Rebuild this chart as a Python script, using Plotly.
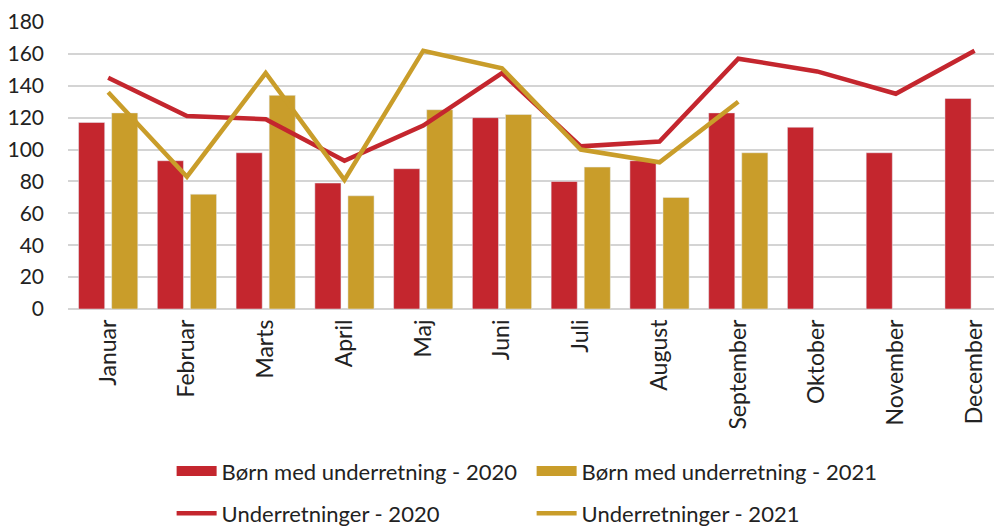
import plotly.graph_objects as go

months = ["Januar", "Februar", "Marts", "April", "Maj", "Juni", "Juli",
          "August", "September", "Oktober", "November", "December"]
born_2020 = [117, 93, 98, 79, 88, 120, 80, 93, 123, 114, 98, 132]
born_2021 = [123, 72, 134, 71, 125, 122, 89, 70, 98]
under_2020 = [145, 121, 119, 93, 115, 148, 102, 105, 157, 149, 135, 162]
under_2021 = [136, 83, 148, 81, 162, 151, 100, 92, 130]

RED = "#C4262E"
GOLD = "#C99D2A"
FONT = "Lato"
TXT = "#222222"

fig = go.Figure()
fig.add_trace(go.Bar(x=months, y=born_2020, name="Børn med underretning - 2020",
                     marker=dict(color=RED), showlegend=False, legendgroup="b20"))
fig.add_trace(go.Bar(x=months[:len(born_2021)], y=born_2021,
                     name="Børn med underretning - 2021", marker=dict(color=GOLD),
                     showlegend=False, legendgroup="b21"))
fig.add_trace(go.Scatter(x=months, y=under_2020, name="Underretninger - 2020",
                         mode="lines", line=dict(color=RED, width=4.5),
                         legend="legend2"))
fig.add_trace(go.Scatter(x=months[:len(under_2021)], y=under_2021,
                         name="Underretninger - 2021", mode="lines",
                         line=dict(color=GOLD, width=4.5), legend="legend2"))
# legend entries for the bar series (wide filled swatches)
fig.add_trace(go.Scatter(x=[None], y=[None], mode="lines", name="Børn med underretning - 2020",
                         line=dict(color=RED, width=13), legendgroup="b20", legend="legend"))
fig.add_trace(go.Scatter(x=[None], y=[None], mode="lines", name="Børn med underretning - 2021",
                         line=dict(color=GOLD, width=13), legendgroup="b21", legend="legend"))

leg_common = dict(orientation="h", xanchor="left", yanchor="middle",
                  entrywidth=305, entrywidthmode="pixels",
                  font=dict(family=FONT, size=22, color=TXT),
                  itemwidth=40, bgcolor="rgba(0,0,0,0)")

fig.update_layout(
    width=1002, height=528,
    margin=dict(l=60, r=0, t=14, b=227, autoexpand=False),
    paper_bgcolor="white", plot_bgcolor="white",
    font=dict(family=FONT, size=20, color=TXT),
    barmode="group", bargap=0.16, bargroupgap=0.21,
    showlegend=True,
    legend=dict(x=0.110, y=-0.565, **leg_common),
    legend2=dict(x=0.110, y=-0.712, **leg_common),
    xaxis=dict(range=[-0.51, 11.45], tickangle=-90, showgrid=False,
               showline=False, ticks="", tickfont=dict(size=23, color=TXT),
               automargin=False, ticklabelstandoff=5),
    yaxis=dict(range=[0, 180], dtick=20, showgrid=True, gridcolor="#d4d4d4",
               gridwidth=1.5, zeroline=True, zerolinecolor="#d4d4d4",
               zerolinewidth=1.5, showline=False, ticks="", automargin=False,
               ticklabelstandoff=23, tickfont=dict(size=21, color=TXT)),
)

fig.write_html("out.html")
